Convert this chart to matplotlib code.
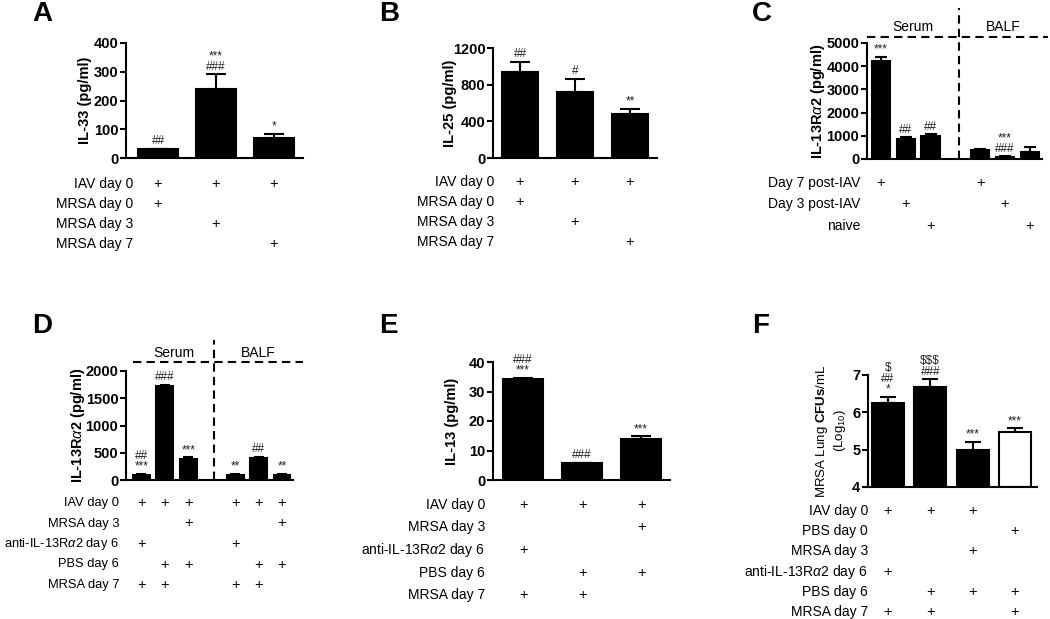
import numpy as np
import matplotlib
matplotlib.use("Agg")
import matplotlib.pyplot as plt
import matplotlib.transforms as mtransforms

plt.rcParams['font.family'] = ['Liberation Sans', 'DejaVu Sans']
plt.rcParams['mathtext.fontset'] = 'custom'
plt.rcParams['mathtext.rm'] = 'Liberation Sans'
plt.rcParams['mathtext.it'] = 'Liberation Sans:italic'
plt.rcParams['mathtext.bf'] = 'Liberation Sans:bold'

# ---------------- DATA ----------------
A_vals = [30, 240, 68]
A_err = [3, 52, 15]
A_sig = ["##", "***\n###", "*"]
A_rows = ["IAV day 0", "MRSA day 0", "MRSA day 3", "MRSA day 7"]
A_plus = [[1, 1, 1], [1, 0, 0], [0, 1, 0], [0, 0, 1]]

B_vals = [935, 725, 485]
B_err = [115, 140, 50]
B_sig = ["##", "#", "**"]
B_rows = ["IAV day 0", "MRSA day 0", "MRSA day 3", "MRSA day 7"]
B_plus = [[1, 1, 1], [1, 0, 0], [0, 1, 0], [0, 0, 1]]

C_vals = [4220, 880, 980, 400, 100, 310]
C_err = [180, 50, 80, 50, 20, 200]
C_sig = ["***", "##", "##", "", "***\n###", ""]
C_rows = ["Day 7 post-IAV", "Day 3 post-IAV", "naive"]
C_plus = [[1, 0, 0, 1, 0, 0], [0, 1, 0, 0, 1, 0], [0, 0, 1, 0, 0, 1]]
C_groups = ["Serum", "BALF"]

D_vals = [100, 1720, 380, 100, 400, 100]
D_err = [5, 30, 35, 5, 25, 5]
D_sig = ["##\n***", "###", "***", "**", "##", "**"]
D_rows = ["IAV day 0", "MRSA day 3", r"anti-IL-13R$\alpha$2 day 6", "PBS day 6", "MRSA day 7"]
D_plus = [[1, 1, 1, 1, 1, 1], [0, 0, 1, 0, 0, 1], [1, 0, 0, 1, 0, 0],
          [0, 1, 1, 0, 1, 1], [1, 1, 0, 1, 1, 0]]
D_groups = ["Serum", "BALF"]

E_vals = [34.2, 5.7, 14.0]
E_err = [0.4, 0.2, 0.8]
E_sig = ["###\n***", "###", "***"]
E_rows = ["IAV day 0", "MRSA day 3", r"anti-IL-13R$\alpha$2 day 6", "PBS day 6", "MRSA day 7"]
E_plus = [[1, 1, 1], [0, 0, 1], [1, 0, 0], [0, 1, 1], [1, 1, 0]]

F_vals = [6.25, 6.67, 4.98, 5.47]
F_err = [0.17, 0.21, 0.23, 0.10]
F_sig = ["$\n##\n*", "$$$\n###", "***", "***"]
F_colors = ["black", "black", "black", "white"]
F_rows = ["IAV day 0", "PBS day 0", "MRSA day 3", r"anti-IL-13R$\alpha$2 day 6", "PBS day 6", "MRSA day 7"]
F_plus = [[1, 1, 1, 0], [0, 0, 0, 1], [0, 0, 1, 0], [1, 0, 0, 0], [0, 1, 1, 1], [1, 1, 0, 1]]

# ---------------- LAYOUT ----------------
W, H = 1050, 619
fig = plt.figure(figsize=(W / 100, H / 100), dpi=100)

LW = 1.5


def make_ax(box, xlim, ylim, yticks):
    l, t, r, b = box
    ax = fig.add_axes([l / W, 1 - b / H, (r - l) / W, (b - t) / H])
    ax.set_xlim(*xlim)
    ax.set_ylim(*ylim)
    ax.set_yticks(yticks)
    ax.set_xticks([])
    for s in ['top', 'right']:
        ax.spines[s].set_visible(False)
    for s in ['left', 'bottom']:
        ax.spines[s].set_linewidth(LW)
    ax.tick_params(axis='y', length=4, width=LW, pad=1.5, labelsize=10.5)
    for lab in ax.get_yticklabels():
        lab.set_fontweight('bold')
    ax.patch.set_alpha(0)
    return ax


def panel(box, xlim, ylim, yticks, pos, vals, errs, sigs, width, capsize,
          ylabel, ylab_x, rows, plus, row_y0, row_dy, lab_x, letter, letter_xy,
          colors=None, bottom=0, ylab_bold=True, ylab_size=10.5, row_size=10):
    l, t, r, b = box
    ax = make_ax(box, xlim, ylim, yticks)
    vals = np.array(vals, dtype=float)
    if colors is None:
        colors = ["black"] * len(vals)
    ax.bar(pos, vals - bottom, bottom=bottom, width=width, color=colors,
           edgecolor="black", linewidth=LW, zorder=2)
    ax.errorbar(pos, vals, yerr=[np.zeros(len(vals)), errs], fmt='none',
                ecolor='black', elinewidth=LW, capsize=capsize, capthick=LW, zorder=1)
    for x, v, e, s in zip(pos, vals, errs, sigs):
        if s:
            ax.annotate(s, (x, v + e), xytext=(0, 1), textcoords='offset points',
                        ha='center', va='bottom', fontsize=8.5, linespacing=0.85,
                        color='#222222', parse_math=False, annotation_clip=False)
    ax.set_ylabel(ylabel, fontsize=ylab_size,
                  fontweight='bold' if ylab_bold else 'normal', va='center',
                  linespacing=1.1)
    ax.yaxis.set_label_coords((ylab_x - l) / (r - l), 0.5)
    tr = mtransforms.blended_transform_factory(ax.transData, ax.transAxes)
    for i, (rl, pr) in enumerate(zip(rows, plus)):
        ypx = row_y0 + i * row_dy
        yf = (b - ypx) / (b - t)
        ax.text((lab_x - l) / (r - l), yf, rl, transform=ax.transAxes,
                ha='right', va='center', fontsize=row_size, clip_on=False)
        for x, p in zip(pos, pr):
            if p:
                ax.text(x, yf, "+", transform=tr, ha='center', va='center',
                        fontsize=10.5, clip_on=False)
    fig.text(letter_xy[0] / W, 1 - letter_xy[1] / H, letter, fontsize=20,
             fontweight='bold', ha='left', va='center')
    return ax


def groups_dashes(ax, box, xstart_px, xend_px, vx_px, hy_px, vtop_px, gtext, text_y_px, pos0_px, dpx):
    l, t, r, b = box
    ylo, yhi = ax.get_ylim()

    def ydata(ypx):
        return ylo + (b - ypx) / (b - t) * (yhi - ylo)

    def xdata(xpx):
        return (xpx - pos0_px) / dpx
    ax.plot([xdata(xstart_px), xdata(xend_px)], [ydata(hy_px)] * 2, color='black',
            lw=LW, ls=(0, (4, 2.5)), clip_on=False)
    ax.plot([xdata(vx_px)] * 2, [ylo, ydata(vtop_px)], color='black',
            lw=LW, ls=(0, (4, 2.5)), clip_on=False)
    cx1 = (xdata(xstart_px) + xdata(vx_px)) / 2
    cx2 = (xdata(vx_px) + xdata(xend_px)) / 2
    for cx, g in zip([cx1, cx2], gtext):
        ax.text(cx, ydata(text_y_px), g, ha='center', va='center', fontsize=10, clip_on=False)


# Panel A
panel((126, 43, 303, 158), (-0.552, 2.5), (0, 400), np.arange(0, 401, 100),
      [0, 1, 2], A_vals, A_err, A_sig, 0.69, 7,
      "IL-33 (pg/ml)", 85, A_rows, A_plus, 184, 20, 133, "A", (32, 14))

# Panel B
panel((493, 48, 657, 158), (-0.49, 2.49), (0, 1200), [0, 400, 800, 1200],
      [0, 1, 2], B_vals, B_err, B_sig, 0.67, 7,
      "IL-25 (pg/ml)", 450, B_rows, B_plus, 182, 20, 494, "B", (379, 14))

# Panel C
C_box = (867, 43, 1042, 159)
axC = panel(C_box, (-0.56, 6.49), (0, 5000), np.arange(0, 5001, 1000),
            [0, 1, 2, 4, 5, 6], C_vals, C_err, C_sig, 0.73, 4,
            r"IL-13R$\alpha$2 (pg/ml)", 818, C_rows, C_plus, 183, 21.5, 860, "C", (752, 14))
groups_dashes(axC, C_box, 867, 1048, 959, 37, 8, C_groups, 27, 881, 24.8)

# Panel D
D_box = (126, 371, 293, 480)
axD = panel(D_box, (-0.66, 6.47), (0, 2000), np.arange(0, 2001, 500),
            [0, 1, 2, 4, 5, 6], D_vals, D_err, D_sig, 0.72, 3.5,
            r"IL-13R$\alpha$2 (pg/ml)", 78, D_rows, D_plus, 503, 20.5, 119, "D", (32, 326),
            row_size=9.3)
groups_dashes(axD, D_box, 133, 303, 214, 362, 340, D_groups, 353, 141.5, 23.4)

# Panel E
panel((493, 362, 670, 480), (-0.51, 2.49), (0, 40), np.arange(0, 41, 10),
      [0, 1, 2], E_vals, E_err, E_sig, 0.68, 7,
      "IL-13 (pg/ml)", 452, E_rows, E_plus, 505, 22.5, 485, "E", (379, 326))

# Panel F
panel((868, 375, 1037, 487), (-0.47, 3.52), (4, 7), [4, 5, 6, 7],
      [0, 1, 2, 3], F_vals, F_err, F_sig, 0.76, 6,
      "MRSA Lung $\\mathbf{CFUs}$/mL\n(Log$_{10}$)", 831, F_rows, F_plus, 511, 20.2, 868,
      "F", (752, 326), colors=F_colors, bottom=4, ylab_bold=False, ylab_size=9.5)

fig.savefig("out.png", dpi=100)
